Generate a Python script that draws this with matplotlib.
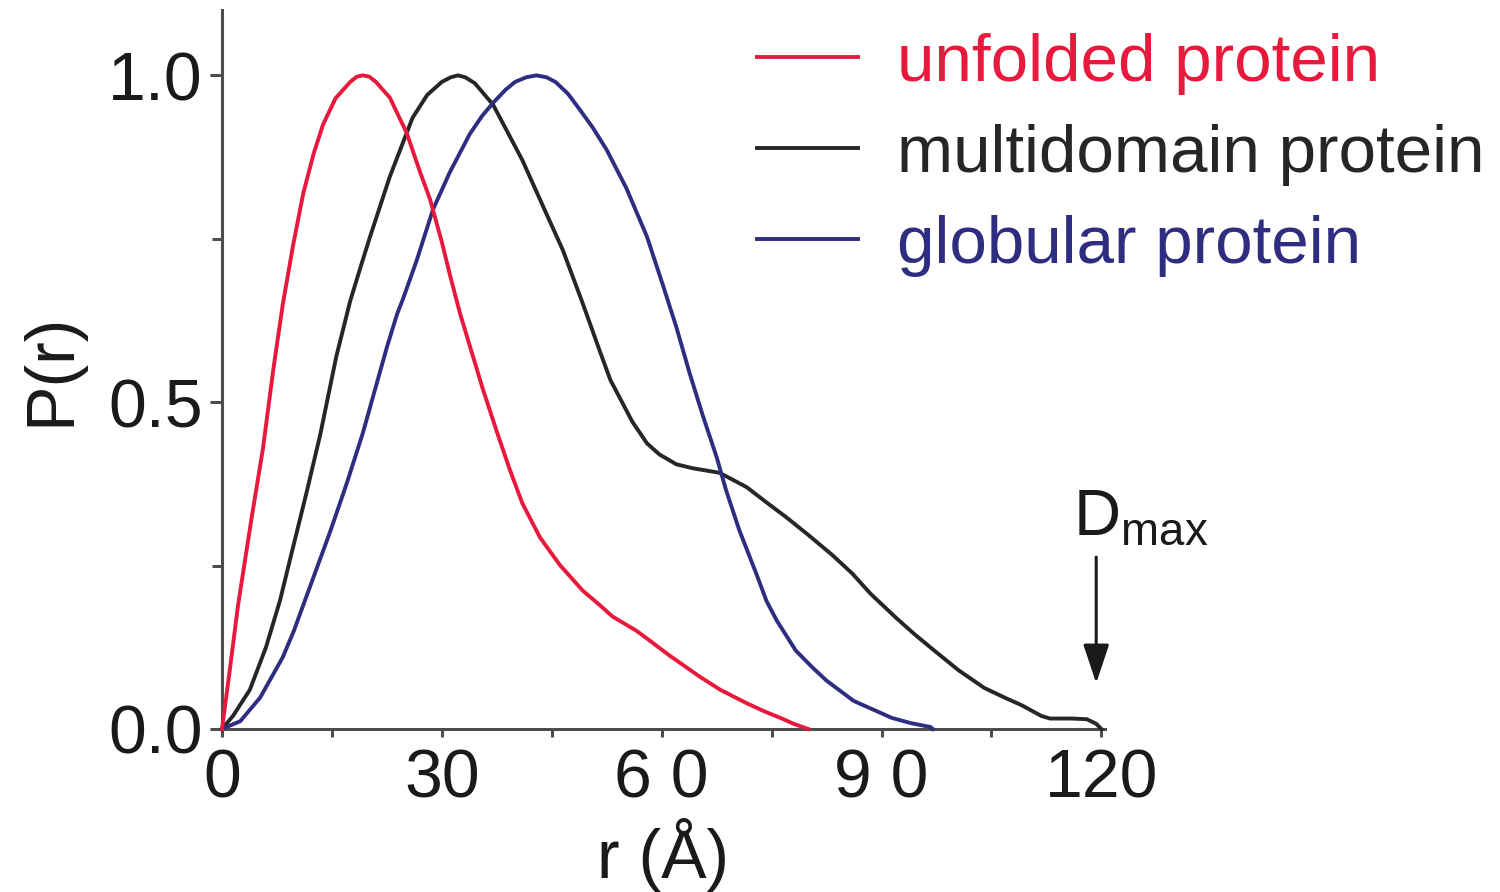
import matplotlib
matplotlib.use("Agg")
import matplotlib.pyplot as plt

plt.rcParams["font.family"] = ["Liberation Sans", "DejaVu Sans"]
plt.rcParams["mathtext.fontset"] = "custom"
plt.rcParams["mathtext.rm"] = "Liberation Sans"

# pair-distance distributions, normalised to a peak of 1
r_unfolded = [0, 1, 2.2, 4, 5.6, 7, 8.3, 9.7, 11.1, 12.5, 13.8, 15.5, 17.5, 18.4,
              19.2, 20.1, 21, 22.9, 25.2, 27, 28.4, 30, 31.1, 32.5, 34.2, 35.6,
              37.5, 39.3, 41, 43.4, 46.1, 49.2, 51.5, 53.3, 56.6, 58.4, 61, 65.2,
              68, 71.5, 74, 76.2, 78, 80]
p_unfolded = [0, 0.085, 0.19, 0.32, 0.43, 0.55, 0.65, 0.74, 0.82, 0.88, 0.925,
              0.965, 0.99, 0.998, 1.0, 0.998, 0.99, 0.966, 0.912, 0.853, 0.81,
              0.745, 0.695, 0.635, 0.572, 0.52, 0.455, 0.396, 0.345, 0.293,
              0.251, 0.212, 0.19, 0.172, 0.15, 0.135, 0.113, 0.08, 0.06, 0.04,
              0.027, 0.017, 0.008, 0]

r_multi = [0, 1.5, 3.8, 6, 7.9, 9.3, 11.5, 13.4, 15.6, 17.5, 19, 20.2, 22.9, 26,
           28, 30, 31.2, 32.2, 33.2, 34.5, 37, 41, 43.8, 46.5, 49.2, 51.5, 53, 56,
           58, 59.7, 62, 64.2, 67.9, 71.6, 74.5, 77, 80, 83.3, 86, 88.5, 92,
           94.5, 97.2, 100.5, 104, 107, 109.2, 111.8, 113, 116, 118, 119.3, 120]
p_multi = [0, 0.02, 0.06, 0.125, 0.196, 0.26, 0.36, 0.45, 0.57, 0.655, 0.71,
           0.753, 0.845, 0.935, 0.97, 0.99, 0.997, 1.0, 0.997, 0.988, 0.955,
           0.87, 0.8, 0.733, 0.652, 0.58, 0.534, 0.47, 0.437, 0.42, 0.405,
           0.399, 0.392, 0.37, 0.345, 0.324, 0.297, 0.266, 0.238, 0.207, 0.17,
           0.145, 0.12, 0.09, 0.063, 0.047, 0.036, 0.02, 0.016, 0.016, 0.015,
           0.008, 0]

r_globular = [0, 2.5, 5.2, 8.3, 9.8, 11.3, 14.7, 17, 19.2, 22.5, 23.9, 24.7,
              26.6, 28.8, 31.1, 33.8, 35.5, 37, 38.7, 40, 41.5, 42.9, 44.3,
              45.5, 47.2, 48.8, 50.6, 52.5, 55.2, 58, 60.2, 62, 63.8, 65.6,
              67.5, 68.8, 70.6, 72.9, 74.3, 75.7, 78.3, 80.5, 82.5, 86.2, 91.4,
              94, 96.7, 97]
p_globular = [0, 0.012, 0.048, 0.11, 0.15, 0.196, 0.3, 0.375, 0.452, 0.584,
              0.635, 0.658, 0.718, 0.795, 0.852, 0.91, 0.938, 0.958, 0.978,
              0.99, 0.997, 1.0, 0.997, 0.99, 0.972, 0.948, 0.92, 0.886, 0.827,
              0.753, 0.678, 0.615, 0.545, 0.48, 0.416, 0.365, 0.304, 0.238,
              0.196, 0.166, 0.12, 0.095, 0.074, 0.043, 0.017, 0.009, 0.003, 0]

x_ticks = [0, 30, 60, 90, 120]
x_ticklabels = ["0", "30", "6 0", "9 0", "120"]
x_minor = [15, 45, 75, 105]
y_ticks = [0, 0.5, 1.0]
y_ticklabels = ["0.0", "0.5", "1.0"]
y_minor = [0.25, 0.75]

red = "#e8193c"
black = "#262626"
navy = "#2f2d7f"
axis_grey = "#4d4d4d"
text_col = "#1a1a1a"

fig = plt.figure(figsize=(15, 8.92), dpi=100)
ax = fig.add_axes([222 / 1500, 163 / 892, 883 / 1500, 719 / 892])

lw = 2.8
l_multi, = ax.plot(r_multi, p_multi, color=black, lw=lw, label="multidomain protein",
                   solid_joinstyle="round", clip_on=False, zorder=3)
l_glob, = ax.plot(r_globular, p_globular, color=navy, lw=lw, label="globular protein",
                  solid_joinstyle="round", clip_on=False, zorder=4)
l_unf, = ax.plot(r_unfolded, p_unfolded, color=red, lw=lw, label="unfolded protein",
                 solid_joinstyle="round", clip_on=False, zorder=5)

ax.set_xlim(0, 120.5)
ax.set_ylim(0, 1.1)

for side in ("top", "right"):
    ax.spines[side].set_visible(False)
for side in ("left", "bottom"):
    ax.spines[side].set_color(axis_grey)
    ax.spines[side].set_linewidth(2.2)

ax.set_xticks(x_ticks)
ax.set_xticklabels(x_ticklabels)
ax.set_xticks(x_minor, minor=True)
ax.set_yticks(y_ticks)
ax.set_yticklabels(y_ticklabels)
ax.set_yticks(y_minor, minor=True)

ax.tick_params(axis="x", which="both", direction="out", length=6, width=2.2,
               color=axis_grey, labelsize=49, labelcolor=text_col, pad=7)
ax.tick_params(axis="y", which="major", direction="out", length=9, width=2.2,
               color=axis_grey, labelsize=49, labelcolor=text_col, pad=5)
ax.tick_params(axis="y", which="minor", direction="out", length=7, width=2.2,
               color=axis_grey)

ax.set_xlabel("r (Å)", fontsize=49, color=text_col, labelpad=5)
ax.set_ylabel("P(r)", fontsize=49, color=text_col, labelpad=18)

leg = ax.legend(handles=[l_unf, l_multi, l_glob], loc="upper left",
                bbox_to_anchor=(757 / 1500, 1 - 33 / 892),
                bbox_transform=fig.transFigure, frameon=False, fontsize=48.5,
                handlelength=1.5, handletextpad=0.58, labelspacing=0.43,
                borderpad=0, borderaxespad=0)
for txt, col in zip(leg.get_texts(), [red, black, navy]):
    txt.set_color(col)

# D_max marker
ax.text(116.1, 0.297, r"D$_{\mathrm{max}}$", fontsize=47, color=text_col,
        ha="left", va="baseline", clip_on=False)
ax.annotate("", xy=(119.3, 0.07), xytext=(119.3, 0.263),
            arrowprops=dict(arrowstyle="-|>,head_length=0.6,head_width=0.2",
                            color=text_col, lw=2.2, mutation_scale=40,
                            shrinkA=0, shrinkB=0),
            annotation_clip=False)

fig.savefig("out.png", dpi=100)
